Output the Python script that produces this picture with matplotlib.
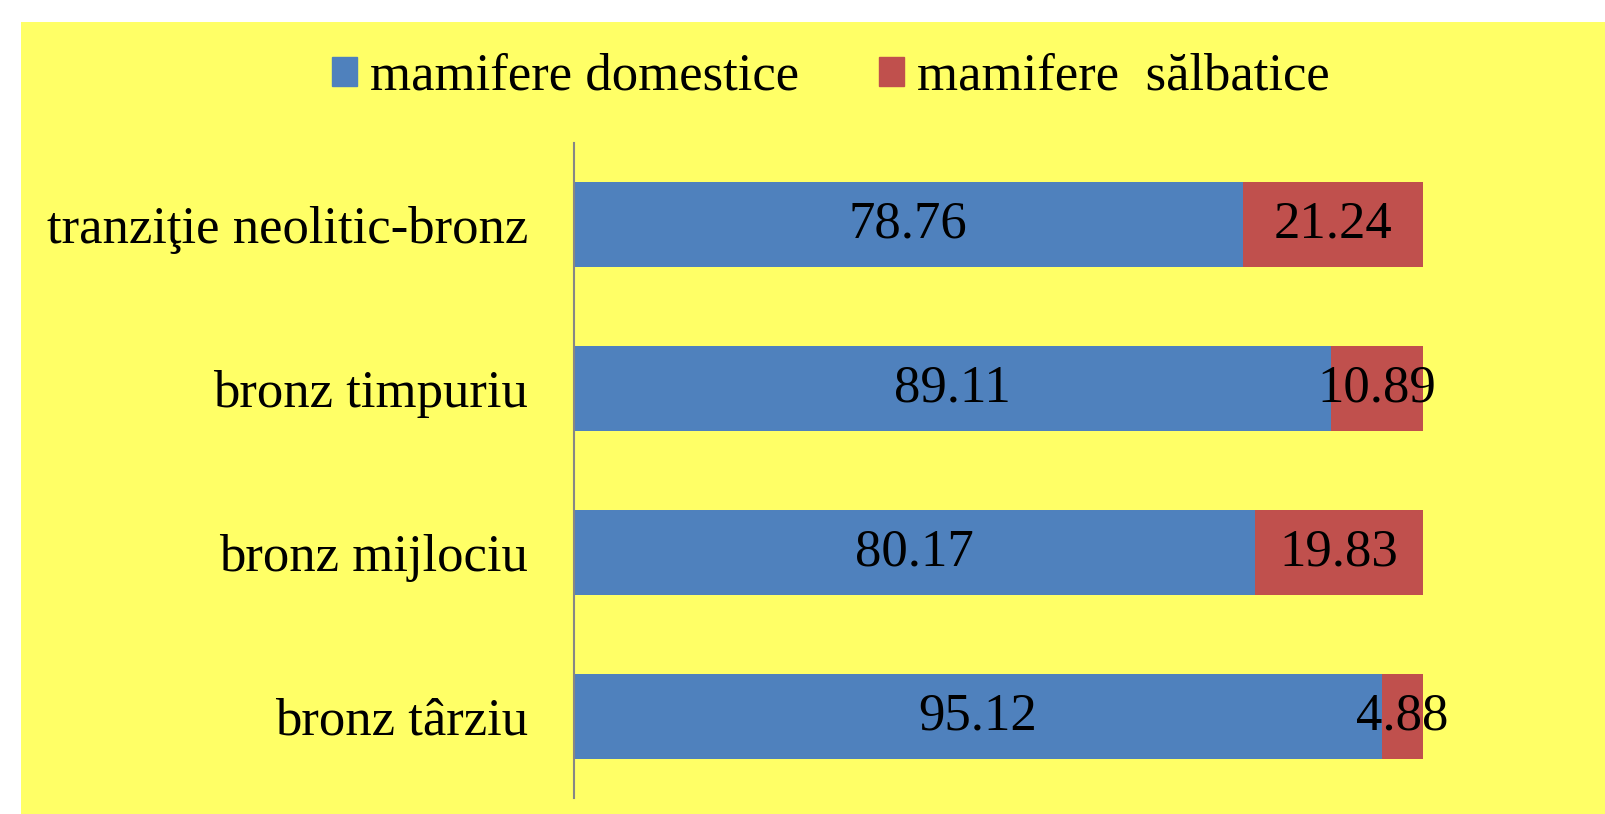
import matplotlib
matplotlib.use("Agg")
import matplotlib.pyplot as plt
from matplotlib.patches import Rectangle, Patch

plt.rcParams['font.family'] = ['Liberation Serif', 'DejaVu Serif']

categories = ["tranziţie neolitic-bronz", "bronz timpuriu", "bronz mijlociu", "bronz târziu"]
domestice = [78.76, 89.11, 80.17, 95.12]
salbatice = [21.24, 10.89, 19.83, 4.88]
series_names = ["mamifere domestice", "mamifere  sălbatice"]

blue = "#4F81BD"
red = "#C0504D"
yellow = "#FFFF66"

W, H = 1605, 814
fig = plt.figure(figsize=(W / 100, H / 100), dpi=100)
fig.patch.set_facecolor("white")
# yellow chart area, behind everything
fig.patches.append(Rectangle((21 / W, 0), 1 - 21 / W, (H - 22) / H,
                             transform=fig.transFigure, facecolor=yellow,
                             edgecolor="none", zorder=-10))

ax = fig.add_axes([574 / W, 16 / H, (1423 - 574) / W, (798 - 143) / H])
ax.set_facecolor("none")

y = list(range(len(categories)))
ax.barh(y, domestice, height=0.52, color=blue, edgecolor="none")
ax.barh(y, salbatice, left=domestice, height=0.52, color=red, edgecolor="none")

for i in y:
    ax.text(domestice[i] / 2, i, f"{domestice[i]:.2f}", ha="center", va="center",
            fontsize=38)
    ax.text(domestice[i] + salbatice[i] / 2, i, f"{salbatice[i]:.2f}", ha="center",
            va="center", fontsize=38, clip_on=False)

ax.set_xlim(0, 100)
ax.set_ylim(len(categories) - 0.5, -0.5)
ax.set_yticks(y)
ax.set_yticklabels(categories, fontsize=38)
ax.tick_params(axis="y", length=0, pad=33)
ax.set_xticks([])
for s in ["top", "right", "bottom"]:
    ax.spines[s].set_visible(False)
ax.spines["left"].set_color("#868686")
ax.spines["left"].set_linewidth(1.5)

handles = [Patch(color=blue), Patch(color=red)]
fig.legend(handles, series_names, loc="center", bbox_to_anchor=(831 / W, 1 - 77 / H),
           ncol=2, frameon=False, fontsize=38, handlelength=0.48, handleheight=0.48,
           handletextpad=0.25, columnspacing=1.5)

fig.savefig("out.png", dpi=100)
